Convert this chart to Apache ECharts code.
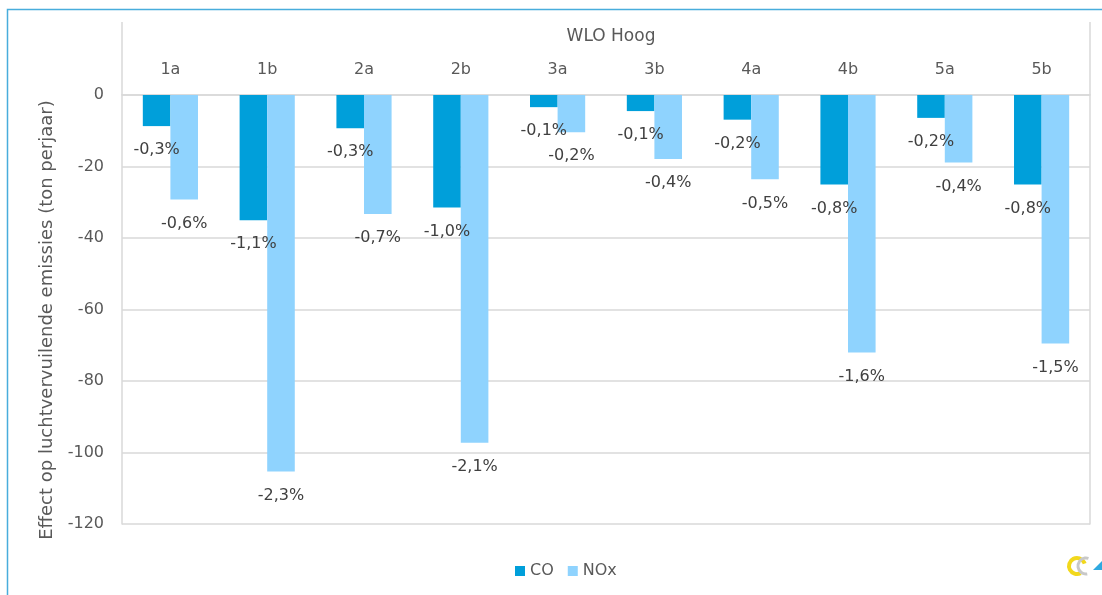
<!DOCTYPE html>
<html>
<head>
<meta charset="utf-8">
<script src="https://cdn.jsdelivr.net/npm/echarts@6/dist/echarts.min.js"></script>
<style>
  html, body { margin: 0; padding: 0; background: #ffffff; }
  #chart { width: 1102px; height: 595px; }
</style>
</head>
<body>
<div id="chart"></div>
<script>
// Scenario variants
const categories = ['1a', '1b', '2a', '2b', '3a', '3b', '4a', '4b', '5a', '5b'];
// Change in emissions, tonnes per year
const coValues = [-8.7, -35.0, -9.3, -31.5, -3.4, -4.5, -6.9, -25.0, -6.4, -25.0];
const noxValues = [-29.2, -105.3, -33.3, -97.3, -10.4, -17.9, -23.6, -72.0, -18.9, -69.5];
// Relative change shown under each bar
const coPercent = ['-0,3%', '-1,1%', '-0,3%', '-1,0%', '-0,1%', '-0,1%', '-0,2%', '-0,8%', '-0,2%', '-0,8%'];
const noxPercent = ['-0,6%', '-2,3%', '-0,7%', '-2,1%', '-0,2%', '-0,4%', '-0,5%', '-1,6%', '-0,4%', '-1,5%'];
const yTicks = [-120, -100, -80, -60, -40, -20, 0];

const FONT = 'DejaVu Sans';
const AXIS_GREY = '#d9d9d9';
const TEXT_GREY = '#595959';

// plot box: value axis runs from the zero line down to -120,
// the side rules continue above it to enclose the category labels
const PLOT = { left: 122, right: 1090, top: 95, bottom: 524, frameTop: 22 };

const chart = echarts.init(document.getElementById('chart'), null, { renderer: 'canvas' });

function pctLabel(list) {
  return {
    show: true,
    position: 'bottom',
    distance: 16,
    fontFamily: FONT,
    fontSize: 16,
    color: '#404040',
    formatter: p => list[p.dataIndex]
  };
}

function sideRule(x) {
  return {
    type: 'line',
    shape: { x1: x, y1: PLOT.frameTop, x2: x, y2: PLOT.top },
    style: { stroke: AXIS_GREY, lineWidth: 1.5 },
    silent: true
  };
}

chart.setOption({
  animation: false,
  backgroundColor: '#ffffff',
  textStyle: { fontFamily: FONT },
  title: {
    text: 'WLO Hoog',
    left: (PLOT.left + PLOT.right) / 2,
    top: 23,
    textAlign: 'center',
    textStyle: { fontFamily: FONT, fontSize: 17, fontWeight: 'normal', color: TEXT_GREY }
  },
  legend: {
    left: 510,
    top: 558,
    icon: 'rect',
    itemWidth: 10,
    itemHeight: 10,
    itemGap: 14,
    textStyle: { fontFamily: FONT, fontSize: 16, color: TEXT_GREY },
    data: ['CO', 'NOx']
  },
  grid: {
    left: PLOT.left,
    right: 1102 - PLOT.right,
    top: PLOT.top,
    bottom: 595 - PLOT.bottom,
    containLabel: false,
    outerBoundsMode: 'none'
  },
  xAxis: {
    type: 'category',
    position: 'top',
    data: categories,
    axisLine: { show: true, onZero: false, lineStyle: { color: AXIS_GREY, width: 1.5 } },
    axisTick: { show: false },
    axisLabel: { margin: 17, fontFamily: FONT, fontSize: 16, color: TEXT_GREY },
    splitLine: { show: false }
  },
  yAxis: [
    {
      type: 'value',
      min: -120,
      max: 0,
      interval: 20,
      axisLine: { show: true, onZero: false, lineStyle: { color: AXIS_GREY, width: 1.5 } },
      axisTick: { show: false },
      axisLabel: {
        margin: 18,
        fontFamily: FONT,
        fontSize: 16,
        color: TEXT_GREY,
        formatter: v => (yTicks.indexOf(v) >= 0 ? String(v) : '')
      },
      splitLine: { show: true, lineStyle: { color: AXIS_GREY, width: 1.5 } }
    },
    {
      type: 'value',
      position: 'right',
      min: -120,
      max: 0,
      interval: 20,
      axisLine: { show: true, onZero: false, lineStyle: { color: AXIS_GREY, width: 1.5 } },
      axisTick: { show: false },
      axisLabel: { show: false },
      splitLine: { show: false }
    }
  ],
  series: [
    {
      name: 'CO',
      type: 'bar',
      data: coValues,
      barGap: '0%',
      barCategoryGap: '43%',
      itemStyle: { color: '#009FDA' },
      label: pctLabel(coPercent),
      z: 3
    },
    {
      name: 'NOx',
      type: 'bar',
      data: noxValues,
      barGap: '0%',
      barCategoryGap: '43%',
      itemStyle: { color: '#8FD3FE' },
      label: pctLabel(noxPercent),
      z: 3
    }
  ],
  graphic: [
    // frame around the figure
    {
      type: 'polyline',
      shape: { points: [[7.5, 600], [7.5, 9.5], [1110, 9.5]] },
      style: { stroke: '#48ADDC', lineWidth: 1.5, fill: null },
      silent: true
    },
    sideRule(PLOT.left),
    sideRule(PLOT.right),
    // value axis title
    {
      type: 'text',
      x: 47,
      y: 320,
      rotation: Math.PI / 2,
      style: {
        text: 'Effect op luchtvervuilende emissies (ton perjaar)',
        fontFamily: FONT,
        fontSize: 18,
        fill: TEXT_GREY,
        align: 'center',
        verticalAlign: 'middle'
      },
      silent: true
    },
    // small logo in the corner
    {
      type: 'group',
      silent: true,
      children: [
        {
          type: 'arc',
          shape: { cx: 1077, cy: 566, r: 8, startAngle: Math.PI * 0.35, endAngle: Math.PI * 1.9 },
          style: { stroke: '#F2D81C', lineWidth: 4, fill: null }
        },
        {
          type: 'arc',
          shape: { cx: 1086, cy: 566, r: 8, startAngle: Math.PI * 0.45, endAngle: Math.PI * 1.6 },
          style: { stroke: '#C8C8C8', lineWidth: 3, fill: null }
        },
        {
          type: 'polygon',
          shape: { points: [[1093, 570], [1102, 561], [1102, 570]] },
          style: { fill: '#2FA9E0' }
        }
      ]
    }
  ]
});
</script>
</body>
</html>
